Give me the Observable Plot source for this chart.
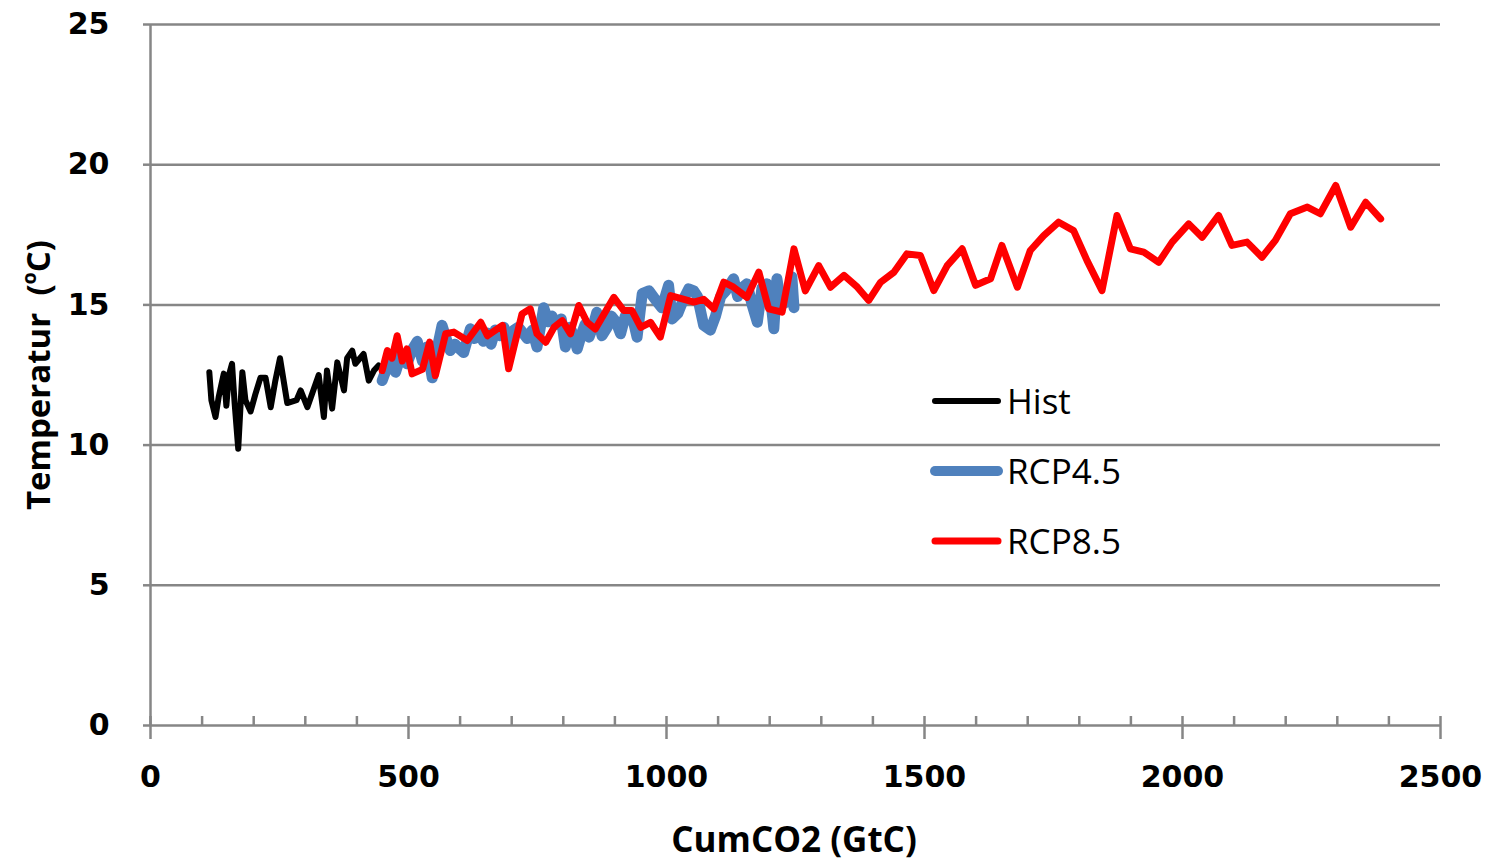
<!DOCTYPE html>
<html>
<head>
<meta charset="utf-8">
<script src="https://cdn.jsdelivr.net/npm/d3@7"></script>
<script src="https://cdn.jsdelivr.net/npm/@observablehq/plot@0.6"></script>
<style>
  html, body { margin: 0; padding: 0; background: #fff; }
  #wrap { position: relative; width: 1491px; height: 862px; overflow: hidden; }
  #wrap svg { position: absolute; left: 0; top: 0; }
  .ytitle { position: absolute; left: 37px; top: 375px; transform: translate(-50%, -50%) rotate(-90deg);
    font-family: "Open Sans", sans-serif; font-weight: 700; font-size: 33px; white-space: pre; color: #000; }
  .ytitle sup { font-size: 0.6em; vertical-align: 0.7em; line-height: 0; }
  .xtitle { position: absolute; left: 794px; top: 838px; transform: translate(-50%, -50%);
    font-family: "Open Sans", sans-serif; font-weight: 700; font-size: 35px; white-space: pre; color: #000; }
  .legend { position: absolute; left: 930px; top: 370px; font-family: "Open Sans", sans-serif; font-size: 35px; color: #000; }
  .legend .item { position: absolute; left: 0; height: 60px; width: 300px; }
  .legend svg { position: absolute !important; left: 0; top: 0; }
  .legend span { position: absolute; left: 77px; top: 50%; transform: translateY(-50%); line-height: 1; }
</style>
</head>
<body>
<div id="wrap"></div>
<script>
// ---- Data ----
const seriesNames = ["Hist", "RCP4.5", "RCP8.5"];
const seriesColors = ["#000000", "#4F81BD", "#FF0000"];

const histX = [114,118,126,132,142,147,152,158,163,170,178,184,194,203,213,223,233,242,251,265,283,291,304,326,336,342,352,362,375,381,391,397,413,423,433,442];
const histY = [12.6,11.6,11.0,11.7,12.55,11.4,12.5,12.9,11.5,9.87,12.6,11.6,11.2,11.8,12.4,12.4,11.35,12.3,13.1,11.5,11.6,11.95,11.35,12.5,11.0,12.66,11.3,12.95,11.95,13.1,13.37,12.9,13.25,12.3,12.66,12.84];

const rcp45X = [449,457,465,475,485,497,507,517,527,536,546,555,565,573,581,590,598,607,620,628,637,645,653,660,668,677,685,695,704,713,722,730,740,749,762,771,778,788,796,804,813,820,827,836,842,850,857,865,875,885,893,902,911,920,928,936,943,953,966,978,991,1004,1011,1022,1033,1043,1053,1060,1072,1085,1095,1105,1115,1130,1138,1146,1156,1166,1176,1185,1195,1202,1208,1214,1222,1232,1243,1247];
const rcp45Y = [12.3,12.7,13.0,12.6,13.2,12.9,13.4,13.7,13.0,13.5,12.4,13.4,14.27,13.8,13.37,13.6,13.45,13.3,14.15,13.8,14.1,13.7,14.0,13.6,14.1,13.9,14.2,13.6,14.1,14.2,14.0,13.8,14.1,13.5,14.9,14.4,14.6,14.3,14.5,13.5,14.2,13.9,13.43,14.0,14.3,13.85,14.2,14.74,13.9,14.2,14.6,14.4,13.97,14.6,14.5,14.4,13.85,15.4,15.5,15.2,14.9,15.7,14.5,14.7,15.2,15.57,15.5,15.3,14.27,14.1,14.6,15.3,15.5,15.93,15.3,15.6,15.75,15.0,14.38,15.6,15.75,15.2,14.15,15.93,15.0,15.1,16.0,14.9];

const rcp85X = [449,459,468,478,488,497,507,527,541,552,572,588,614,640,653,682,694,720,736,749,766,782,798,814,830,846,862,898,917,933,950,969,988,1008,1034,1053,1072,1092,1111,1130,1156,1179,1198,1224,1247,1269,1295,1318,1344,1370,1392,1415,1441,1466,1492,1518,1544,1573,1599,1628,1650,1680,1705,1731,1760,1789,1815,1844,1873,1899,1925,1954,1980,2012,2038,2070,2096,2125,2154,2180,2209,2242,2267,2297,2326,2355,2384];
const rcp85Y = [12.66,13.37,13.1,13.9,13.0,13.43,12.54,12.7,13.67,12.48,13.97,14.03,13.73,14.38,13.9,14.27,12.72,14.68,14.86,13.97,13.67,14.2,14.44,13.97,14.98,14.38,14.14,15.27,14.8,14.8,14.2,14.38,13.85,15.33,15.2,15.1,15.2,14.86,15.81,15.63,15.27,16.17,14.86,14.74,17.0,15.5,16.4,15.63,16.05,15.63,15.16,15.81,16.17,16.82,16.76,15.51,16.4,17.0,15.7,15.93,17.12,15.63,16.94,17.47,17.95,17.65,16.58,15.51,18.19,17.0,16.88,16.52,17.24,17.89,17.41,18.19,17.12,17.24,16.7,17.3,18.25,18.49,18.25,19.26,17.77,18.66,18.07];

const xTicks = [0, 500, 1000, 1500, 2000, 2500];
const xMinorTicks = [100,200,300,400,600,700,800,900,1100,1200,1300,1400,1600,1700,1800,1900,2100,2200,2300,2400];
const yTicks = [0, 5, 10, 15, 20, 25];
const xTitle = "CumCO2 (GtC)";
const yTitleMain = "Temperatur  (";
const yTitleSup = "o";
const yTitleEnd = "C)";

// ---- Build tables ----
const toRows = (xs, ys) => xs.map((x, i) => ({x, y: ys[i]}));
const hist = toRows(histX, histY);
const rcp45 = toRows(rcp45X, rcp45Y);
const rcp85 = toRows(rcp85X, rcp85Y);

const gray = "#868686";
const fmt = d3.format("d");

const chart = Plot.plot({
  width: 1491,
  height: 862,
  marginLeft: 150,
  marginRight: 51,
  marginTop: 24,
  marginBottom: 137,
  style: {fontFamily: "DejaVu Sans", fontWeight: "bold", fontSize: "30px", color: "#000", background: "#fff"},
  x: {domain: [0, 2500]},
  y: {domain: [0, 25]},
  marks: [
    Plot.ruleY(yTicks.filter(d => d > 0), {stroke: gray, strokeWidth: 2.5}),
    Plot.ruleX([0], {stroke: gray, strokeWidth: 2.5}),
    Plot.ruleY([0], {stroke: gray, strokeWidth: 2.5}),
    Plot.axisY(yTicks, {tickSize: 7, tickPadding: 34, stroke: gray, strokeWidth: 2.5, fill: "#000", label: null, fontSize: 30, fontWeight: "bold", tickFormat: fmt}),
    Plot.axisX(xMinorTicks, {tickSize: 9, dy: -9, stroke: gray, strokeWidth: 2.5, tickFormat: () => "", label: null}),
    Plot.axisX(xTicks, {tickSize: 23, dy: -9, stroke: gray, strokeWidth: 2.5, tickFormat: () => "", label: null}),
    Plot.axisX(xTicks, {tickSize: 0, tickPadding: 40, fill: "#000", label: null, fontSize: 30, fontWeight: "bold", tickFormat: fmt}),
    Plot.line(hist, {x: "x", y: "y", stroke: seriesColors[0], strokeWidth: 6, strokeLinejoin: "round", strokeLinecap: "round"}),
    Plot.line(rcp45, {x: "x", y: "y", stroke: seriesColors[1], strokeWidth: 11, strokeLinejoin: "round", strokeLinecap: "round"}),
    Plot.line(rcp85, {x: "x", y: "y", stroke: seriesColors[2], strokeWidth: 7, strokeLinejoin: "round", strokeLinecap: "round"})
  ]
});

const wrap = document.getElementById("wrap");
wrap.appendChild(chart);

// Titles
const yt = document.createElement("div");
yt.className = "ytitle";
yt.innerHTML = `${yTitleMain}<sup>${yTitleSup}</sup>${yTitleEnd}`;
wrap.appendChild(yt);

const xt = document.createElement("div");
xt.className = "xtitle";
xt.textContent = xTitle;
wrap.appendChild(xt);

// Legend
const widths = [6, 10, 7];
const legend = document.createElement("div");
legend.className = "legend";
seriesNames.forEach((name, i) => {
  const item = document.createElement("div");
  item.className = "item";
  item.style.top = (i * 70) + "px";
  item.innerHTML = `<svg width="80" height="60"><line x1="5" x2="68" y1="31" y2="31" stroke="${seriesColors[i]}" stroke-width="${widths[i]}" stroke-linecap="round"/></svg><span>${name}</span>`;
  legend.appendChild(item);
});
wrap.appendChild(legend);
</script>
</body>
</html>
